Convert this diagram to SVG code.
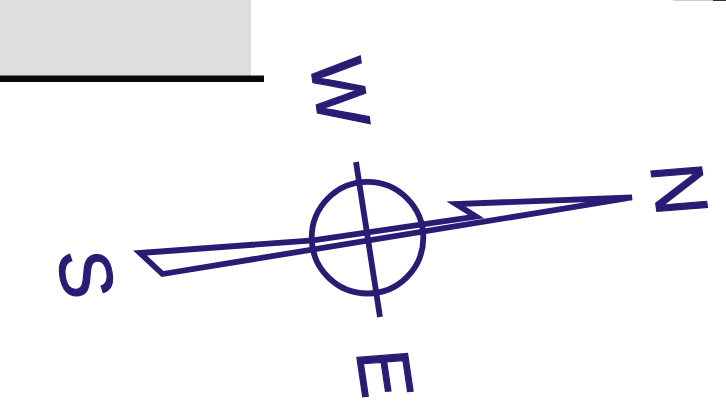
<svg xmlns="http://www.w3.org/2000/svg" width="726" height="416" viewBox="0 0 726 416">
  <style>
    .c { fill: none; stroke: #2b1b74; stroke-width: 5.8; stroke-miterlimit: 10; }
    .t { fill: #2b1b74; stroke: #2b1b74; stroke-width: 1.2px; font-family: "Liberation Sans", Arial, sans-serif; font-size: 74px; }
  </style>
  <rect width="726" height="416" fill="#ffffff"/>
  <g id="backdrop">
    <rect x="0" y="0" width="251" height="76" fill="#dedede"/>
    <rect x="0" y="75.5" width="264" height="6.5" fill="#0a0a0a"/>
    <rect x="673" y="0" width="40" height="1" fill="#cccccc"/>
    <rect x="713" y="0" width="13" height="1" fill="#333333"/>
  </g>
  <g id="compass">
    <circle class="c" cx="367.5" cy="237.7" r="55.8"/>
    <path class="c" d="M632 197.5 L456 204 L476 216.5 L313 240.3 L140 253 L162.5 274 Z"/>
    <path class="c" d="M356 162 L380 317"/>
  </g>
  <g id="label-n"><text class="t" transform="matrix(0.145 0.98 -0.996 0.08 650 165)">N</text></g>
  <g id="label-w"><text class="t" transform="matrix(0.145 0.98 -0.996 0.08 309.5 59.5)">W</text></g>
  <g id="label-e"><text class="t" transform="matrix(0.145 0.98 -0.996 0.08 356 351.5)">E</text></g>
  <g id="label-s"><text class="t" transform="matrix(0.145 0.98 -0.996 0.08 57 252)">S</text></g>
</svg>
